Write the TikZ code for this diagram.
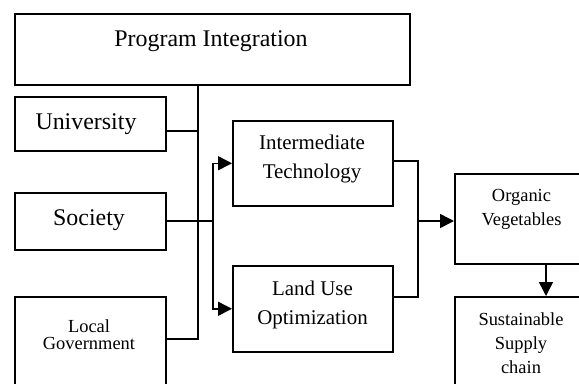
\documentclass[tikz,border=0pt]{standalone}
\usepackage{fontspec}
\setmainfont{Liberation Serif}
\usetikzlibrary{arrows.meta}
\begin{document}
\begin{tikzpicture}[x=1bp,y=-1bp,
  box/.style={draw, line width=1.5bp, rectangle, inner sep=0pt, anchor=north west},
  big/.style={font=\fontsize{24}{28}\selectfont, inner sep=0pt},
  mid/.style={font=\fontsize{21}{29}\selectfont, inner sep=0pt, align=center},
  small/.style={font=\fontsize{18.5}{24}\selectfont, inner sep=0pt, align=center},
  wire/.style={line width=1.5bp},
  arr/.style={wire, -{Triangle[length=14bp,width=14bp]}}]
\clip (0,0) rectangle (579,383);
% boxes
\node[box, minimum width=395bp, minimum height=71bp] (pi) at (14,13) {};
\node[box, minimum width=151bp, minimum height=54bp] (uni) at (14,96) {};
\node[box, minimum width=151bp, minimum height=57bp] (soc) at (14,192) {};
\node[box, minimum width=151bp, minimum height=120bp] (lg) at (14,296) {};
\node[box, minimum width=160bp, minimum height=85bp] (it) at (232,120) {};
\node[box, minimum width=160bp, minimum height=86bp] (lu) at (232,265) {};
\node[box, minimum width=140bp, minimum height=90bp] (org) at (454,173) {};
\node[box, minimum width=140bp, minimum height=120bp] (sus) at (454,296) {};
% texts
\node[big, anchor=base] (pit) at (211,46) {Program Integration};
\node[big, anchor=base] (unit) at (86,129) {University};
\node[big, anchor=base] (soct) at (89,225) {Society};
\node[mid] (itt) at (312,159) {Intermediate\\Technology};
\node[mid] (lut) at (312.5,305) {Land Use\\Optimization};
\node[small, font=\fontsize{18.5}{18}\selectfont] (lgt) at (89,334.7) {Local\\Government};
\node[small] (orgt) at (521.5,209.7) {Organic\\Vegetables};
\node[small] (sust) at (521,343.2) {Sustainable\\Supply\\chain};
% connectors
\coordinate (b1) at (198,131);
\coordinate (b3) at (198,339);
\draw[wire] (pi.south -| b1) -- (b3) -- (lg.east |- b3);
\draw[wire] (uni.east |- b1) -- (b1);
\coordinate (split) at (213,221);
\draw[wire] (soc.east |- split) -- (split);
\draw[arr] (split) |- (it.west);
\draw[arr] (split) |- (lu.west);
\coordinate (r1) at (418,161);
\coordinate (r2) at (418,297);
\coordinate (m) at (418,221);
\draw[wire] (it.east |- r1) -- (r1) -- (r2) -- (lu.east |- r2);
\draw[arr] (m) -- (org.west |- m);
\coordinate (d) at (546,0);
\draw[arr] (org.south -| d) -- (sus.north -| d);
\end{tikzpicture}
\end{document}
